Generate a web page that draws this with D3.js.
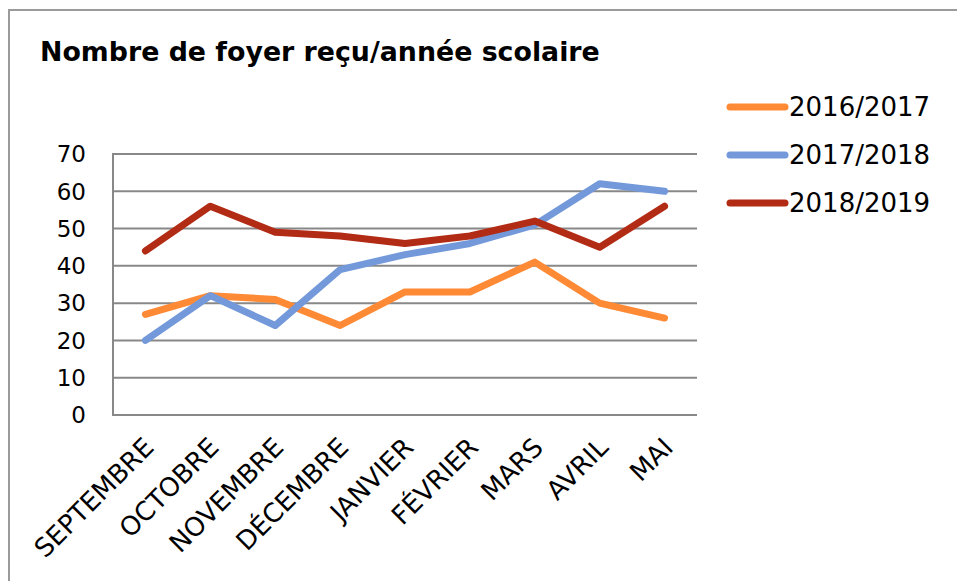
<!DOCTYPE html>
<html>
<head>
<meta charset="utf-8">
<script src="https://cdn.jsdelivr.net/npm/d3@7"></script>
<style>
  body { margin: 0; background: #fff; }
  svg { display: block; }
</style>
</head>
<body>
<div id="chart"></div>
<script>
const months = ['SEPTEMBRE', 'OCTOBRE', 'NOVEMBRE', 'DÉCEMBRE', 'JANVIER', 'FÉVRIER', 'MARS', 'AVRIL', 'MAI']
const seriesNames = ['2016/2017', '2017/2018', '2018/2019']
const y1617 = [27, 32, 31, 24, 33, 33, 41, 30, 26]
const y1718 = [20, 32, 24, 39, 43, 46, 51, 62, 60]
const y1819 = [44, 56, 49, 48, 46, 48, 52, 45, 56]
const yTicks = [0, 10, 20, 30, 40, 50, 60, 70]
const colors = ['#ff8a36', '#7399da', '#b22b15']

const width = 957
const height = 581
const plot = { left: 113, right: 697, top: 154, bottom: 415 }

const svg = d3.select('#chart')
  .append('svg')
  .attr('width', width)
  .attr('height', height)

// outer frame
svg.append('rect')
  .attr('x', 9)
  .attr('y', 10)
  .attr('width', 1000)
  .attr('height', 700)
  .attr('fill', 'none')
  .attr('stroke', '#9a9a9a')
  .attr('stroke-width', 2)

svg.append('text')
  .attr('x', 40)
  .attr('y', 61)
  .attr('font-family', 'DejaVu Sans')
  .attr('font-weight', 'bold')
  .attr('font-size', 26.8)
  .text('Nombre de foyer reçu/année scolaire')

const x = d3.scaleBand().domain(months).range([plot.left, plot.right])
const y = d3.scaleLinear().domain([0, 70]).range([plot.bottom, plot.top])

// grid
svg.append('g')
  .selectAll('line')
  .data(yTicks)
  .enter()
  .append('line')
  .attr('x1', plot.left)
  .attr('x2', plot.right)
  .attr('y1', d => y(d))
  .attr('y2', d => y(d))
  .attr('stroke', '#888')
  .attr('stroke-width', 2)

svg.append('line')
  .attr('x1', plot.left)
  .attr('x2', plot.left)
  .attr('y1', plot.top - 1)
  .attr('y2', plot.bottom + 1)
  .attr('stroke', '#888')
  .attr('stroke-width', 2)

// y labels
svg.append('g')
  .selectAll('text')
  .data(yTicks)
  .enter()
  .append('text')
  .attr('x', 86)
  .attr('y', d => y(d))
  .attr('dy', '0.36em')
  .attr('text-anchor', 'end')
  .attr('font-family', 'DejaVu Sans')
  .attr('font-size', 23)
  .text(d => d)

// x labels
svg.append('g')
  .selectAll('text')
  .data(months)
  .enter()
  .append('text')
  .attr('transform', d => `translate(${x(d) + x.bandwidth() / 2 + 10},${plot.bottom + 34}) rotate(-45)`)
  .attr('text-anchor', 'end')
  .attr('font-family', 'DejaVu Sans')
  .attr('font-size', 26)
  .text(d => d)

const series = [y1617, y1718, y1819]
const line = d3.line()
  .x((d, i) => x(months[i]) + x.bandwidth() / 2)
  .y(d => y(d))

series.forEach((vals, k) => {
  svg.append('path')
    .datum(vals)
    .attr('d', line)
    .attr('fill', 'none')
    .attr('stroke', colors[k])
    .attr('stroke-width', 7)
    .attr('stroke-linecap', 'round')
    .attr('stroke-linejoin', 'round')
})

// legend
const legend = svg.append('g')
  .selectAll('g')
  .data(seriesNames)
  .enter()
  .append('g')
  .attr('transform', (d, i) => `translate(730,${107 + i * 48})`)

legend.append('line')
  .attr('x1', 0)
  .attr('x2', 55)
  .attr('stroke', (d, i) => colors[i])
  .attr('stroke-width', 7)
  .attr('stroke-linecap', 'round')

legend.append('text')
  .attr('x', 59)
  .attr('dy', '0.36em')
  .attr('font-family', 'DejaVu Sans')
  .attr('font-size', 26)
  .text(d => d)
</script>
</body>
</html>
